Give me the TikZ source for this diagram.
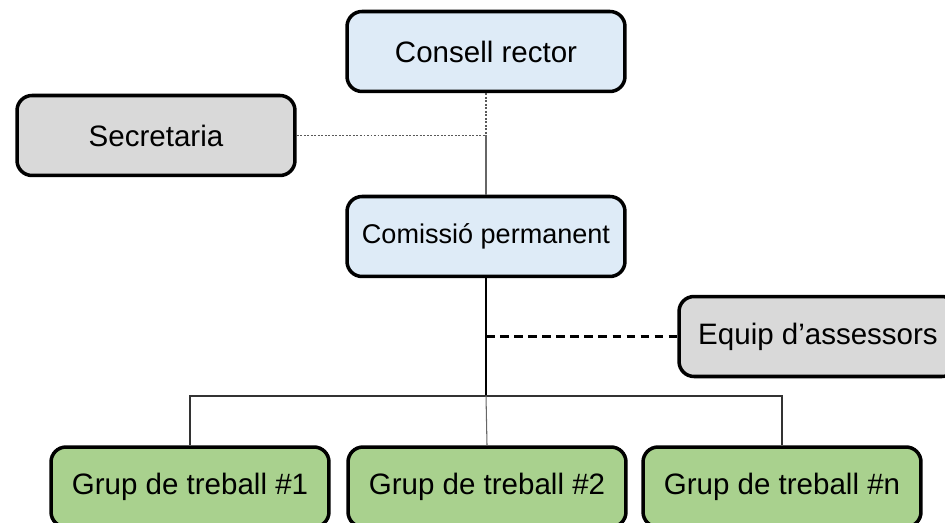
\documentclass[tikz,border=0pt]{standalone}
\usepackage{fontspec}
\setmainfont{Liberation Sans}
\definecolor{boxblue}{HTML}{DEEBF7}
\definecolor{boxgray}{HTML}{D9D9D9}
\definecolor{boxgreen}{HTML}{A9D18E}
\begin{document}
\begin{tikzpicture}[
    x=0.02cm, y=-0.02cm,
    unit/.style={rectangle, draw=black, line width=2pt, rounded corners=0.3cm,
        minimum width=5.56cm, minimum height=1.6cm, inner sep=0pt,
        align=center, font=\fontsize{16.8}{20}\selectfont},
    board/.style={unit, fill=boxblue},
    staff/.style={unit, fill=boxgray},
    group/.style={unit, fill=boxgreen},
    dotline/.style={gray!70!black, line width=0.6pt, dash pattern=on 1.1pt off 0.9pt},
    thinline/.style={gray!80!black, line width=0.6pt},
    mainline/.style={black, line width=1.2pt},
    dashline/.style={black, line width=1.2pt, dash pattern=on 5pt off 3pt},
    barline/.style={black!80, line width=0.7pt}
]
\useasboundingbox[clip] (0,0) rectangle (945,523);

% Governing bodies
\node[board] (cons) at (486,51.5) {Consell rector};
\node[staff] (sec) at (156,135.5) {Secretaria};
\node[board, font=\fontsize{15.4}{18}\selectfont] (com) at (486,236.5) {Comissió permanent};
\node[staff] (equip) at (818,336.5) {Equip d’assessors};

% Working groups
\node[group] (g1) at (190,487) {Grup de treball \#1};
\node[group] (g2) at (487,487) {Grup de treball \#2};
\node[group] (g3) at (782,487) {Grup de treball \#n};

% Junctions
\coordinate (jsec) at (cons.south |- sec.east);
\coordinate (jeq) at (com.south |- equip.west);
\coordinate (jbar) at (486,396);

% Connections
\draw[dotline] (sec.east) -- (jsec);
\draw[dotline] (cons.south) -- (jsec);
\draw[thinline] (jsec) -- (com.north);
\draw[mainline] (com.south) -- (jbar);
\draw[dashline] (jeq) -- (equip.west);
\draw[barline] (g1.north) |- (jbar) -| (g3.north);
\draw[thinline] (jbar) -- (g2.north);

\end{tikzpicture}
\end{document}
